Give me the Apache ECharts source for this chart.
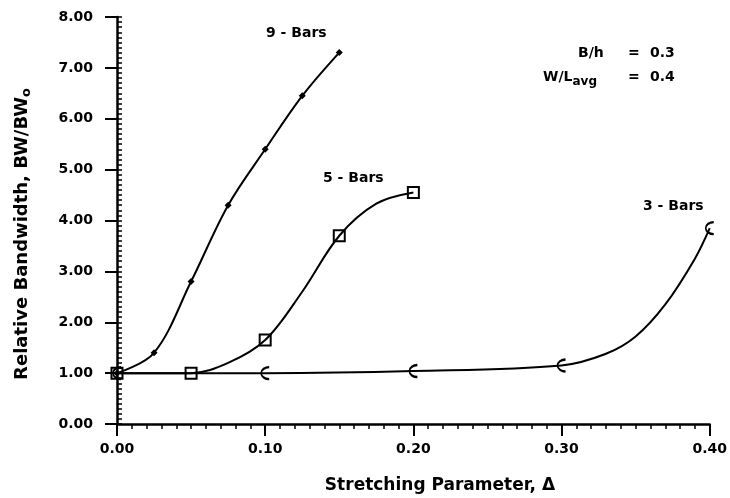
<!DOCTYPE html>
<html>
<head>
<meta charset="utf-8">
<script src="https://cdn.jsdelivr.net/npm/echarts@6/dist/echarts.min.js"></script>
<style>html,body{margin:0;padding:0;background:#fff;}#c{width:730px;height:498px;}</style>
</head>
<body>
<div id="c"></div>
<script>
// X tick values (Stretching Parameter) and Y tick values (Relative Bandwidth)
const xTicks = [0.00, 0.10, 0.20, 0.30, 0.40];
const yTicks = [0, 1, 2, 3, 4, 5, 6, 7, 8];

// 9-Bars
const nineBarsCurve = [[0, 1.0], [0.025, 1.4], [0.05, 2.8], [0.075, 4.3], [0.10, 5.4], [0.125, 6.45], [0.15, 7.3]];
const nineBarsMarks = [[0, 1.0], [0.025, 1.4], [0.05, 2.8], [0.075, 4.3], [0.10, 5.4], [0.125, 6.45], [0.15, 7.3]];
// 5-Bars
const fiveBarsCurve = [[0, 1.0], [0.05, 1.0], [0.075, 1.2], [0.10, 1.65], [0.125, 2.6], [0.15, 3.7], [0.175, 4.33], [0.20, 4.55]];
const fiveBarsMarks = [[0, 1.0], [0.05, 1.0], [0.10, 1.65], [0.15, 3.7], [0.20, 4.55]];
// 3-Bars
const threeBarsCurve = [[0, 1.0], [0.10, 1.0], [0.20, 1.04], [0.30, 1.15], [0.33, 1.38], [0.35, 1.72], [0.37, 2.35], [0.39, 3.25], [0.40, 3.85]];
const threeBarsMarks = [[0, 1.0], [0.10, 1.0], [0.20, 1.04], [0.30, 1.15], [0.40, 3.85]];

const FONT = 'DejaVu Sans';
const chart = echarts.init(document.getElementById('c'), null, {renderer: 'canvas'});

function lineSeries(name, data) {
  return {
    name: name, type: 'line', data: data, smooth: 0.35, showSymbol: false, symbol: 'none',
    lineStyle: {color: '#000', width: 2}, silent: true, z: 2
  };
}
function markSeries(name, data, symbol, size, filled) {
  return {
    name: name + ' points', type: 'scatter', data: data, symbol: symbol, symbolSize: size,
    itemStyle: {color: filled ? '#000' : 'rgba(0,0,0,0)', borderColor: '#000', borderWidth: filled ? 0 : 2, opacity: 1},
    silent: true, z: 3
  };
}

const xMin = xTicks[0], xMax = xTicks[xTicks.length - 1];
const yMin = yTicks[0], yMax = yTicks[yTicks.length - 1];

const option = {
  animation: false,
  backgroundColor: '#fff',
  grid: {left: 117, right: 13, top: 17, bottom: 74, containLabel: false},
  xAxis: [{
    type: 'value', min: xMin, max: xMax, interval: 0.1,
    axisLine: {show: true, lineStyle: {color: '#000', width: 2.5}},
    axisTick: {show: true, length: 12, lineStyle: {color: '#000', width: 2}},
    minorTick: {show: true, splitNumber: 10, length: 5, lineStyle: {color: '#000', width: 1.5}},
    splitLine: {show: false},
    axisLabel: {margin: 18, color: '#000', fontFamily: FONT, fontWeight: 'bold', fontSize: 14,
      formatter: v => v.toFixed(2)}
  }],
  yAxis: [{
    type: 'value', min: yMin, max: yMax, interval: 1,
    axisLine: {show: true, lineStyle: {color: '#000', width: 2.5}},
    axisTick: {show: true, length: 12, lineStyle: {color: '#000', width: 2}},
    splitLine: {show: false},
    axisLabel: {margin: 24, color: '#000', fontFamily: FONT, fontWeight: 'bold', fontSize: 14,
      formatter: v => v.toFixed(2)}
  }, {
    // minor ticks every 0.1, pointing into the plot
    type: 'value', position: 'left', offset: 0, min: yMin, max: yMax, interval: 0.1,
    axisLine: {show: false},
    axisTick: {show: true, inside: true, length: 5, lineStyle: {color: '#000', width: 1.5}},
    splitLine: {show: false},
    axisLabel: {show: false}
  }],
  series: [
    lineSeries('9-Bars', nineBarsCurve),
    lineSeries('5-Bars', fiveBarsCurve),
    lineSeries('3-Bars', threeBarsCurve),
    markSeries('9-Bars', nineBarsMarks, 'diamond', 7, true),
    markSeries('5-Bars', fiveBarsMarks, 'rect', [11, 11], false),
    markSeries('3-Bars', threeBarsMarks, 'path://M10,0 A10,10 0 0 0 10,20', [8, 12], false)
  ],
  graphic: [
    {type: 'text', left: 266, top: 26, style: {text: '9 - Bars', font: 'bold 14px ' + FONT, fill: '#000'}},
    {type: 'text', left: 323, top: 171, style: {text: '5 - Bars', font: 'bold 14px ' + FONT, fill: '#000'}},
    {type: 'text', left: 643, top: 199, style: {text: '3 - Bars', font: 'bold 14px ' + FONT, fill: '#000'}},
    {type: 'text', left: 578, top: 46, style: {text: 'B/h', font: 'bold 14px ' + FONT, fill: '#000'}},
    {type: 'text', left: 628, top: 46, style: {text: '=', font: 'bold 14px ' + FONT, fill: '#000'}},
    {type: 'text', left: 650, top: 46, style: {text: '0.3', font: 'bold 14px ' + FONT, fill: '#000'}},
    {type: 'text', left: 543, top: 70, style: {
      text: 'W/L{s|avg}', font: 'bold 14px ' + FONT, fill: '#000',
      rich: {s: {fontSize: 12, fontWeight: 'bold', fontFamily: FONT, fill: '#000', padding: [10, 0, 0, 0]}}}},
    {type: 'text', left: 628, top: 70, style: {text: '=', font: 'bold 14px ' + FONT, fill: '#000'}},
    {type: 'text', left: 650, top: 70, style: {text: '0.4', font: 'bold 14px ' + FONT, fill: '#000'}},
    {type: 'text', x: 22, y: 234, rotation: Math.PI / 2, style: {
      text: 'Relative Bandwidth, BW/BW{s|o}', font: 'bold 18px ' + FONT, fill: '#000',
      align: 'center', verticalAlign: 'middle',
      rich: {s: {fontSize: 13, fontWeight: 'bold', fontFamily: FONT, fill: '#000', padding: [10, 0, 0, 0]}}}},
    {type: 'text', x: 440, y: 486, style: {
      text: 'Stretching Parameter, Δ', font: 'bold 17px ' + FONT, fill: '#000',
      align: 'center', verticalAlign: 'middle'}}
  ]
};
chart.setOption(option);
</script>
</body>
</html>
